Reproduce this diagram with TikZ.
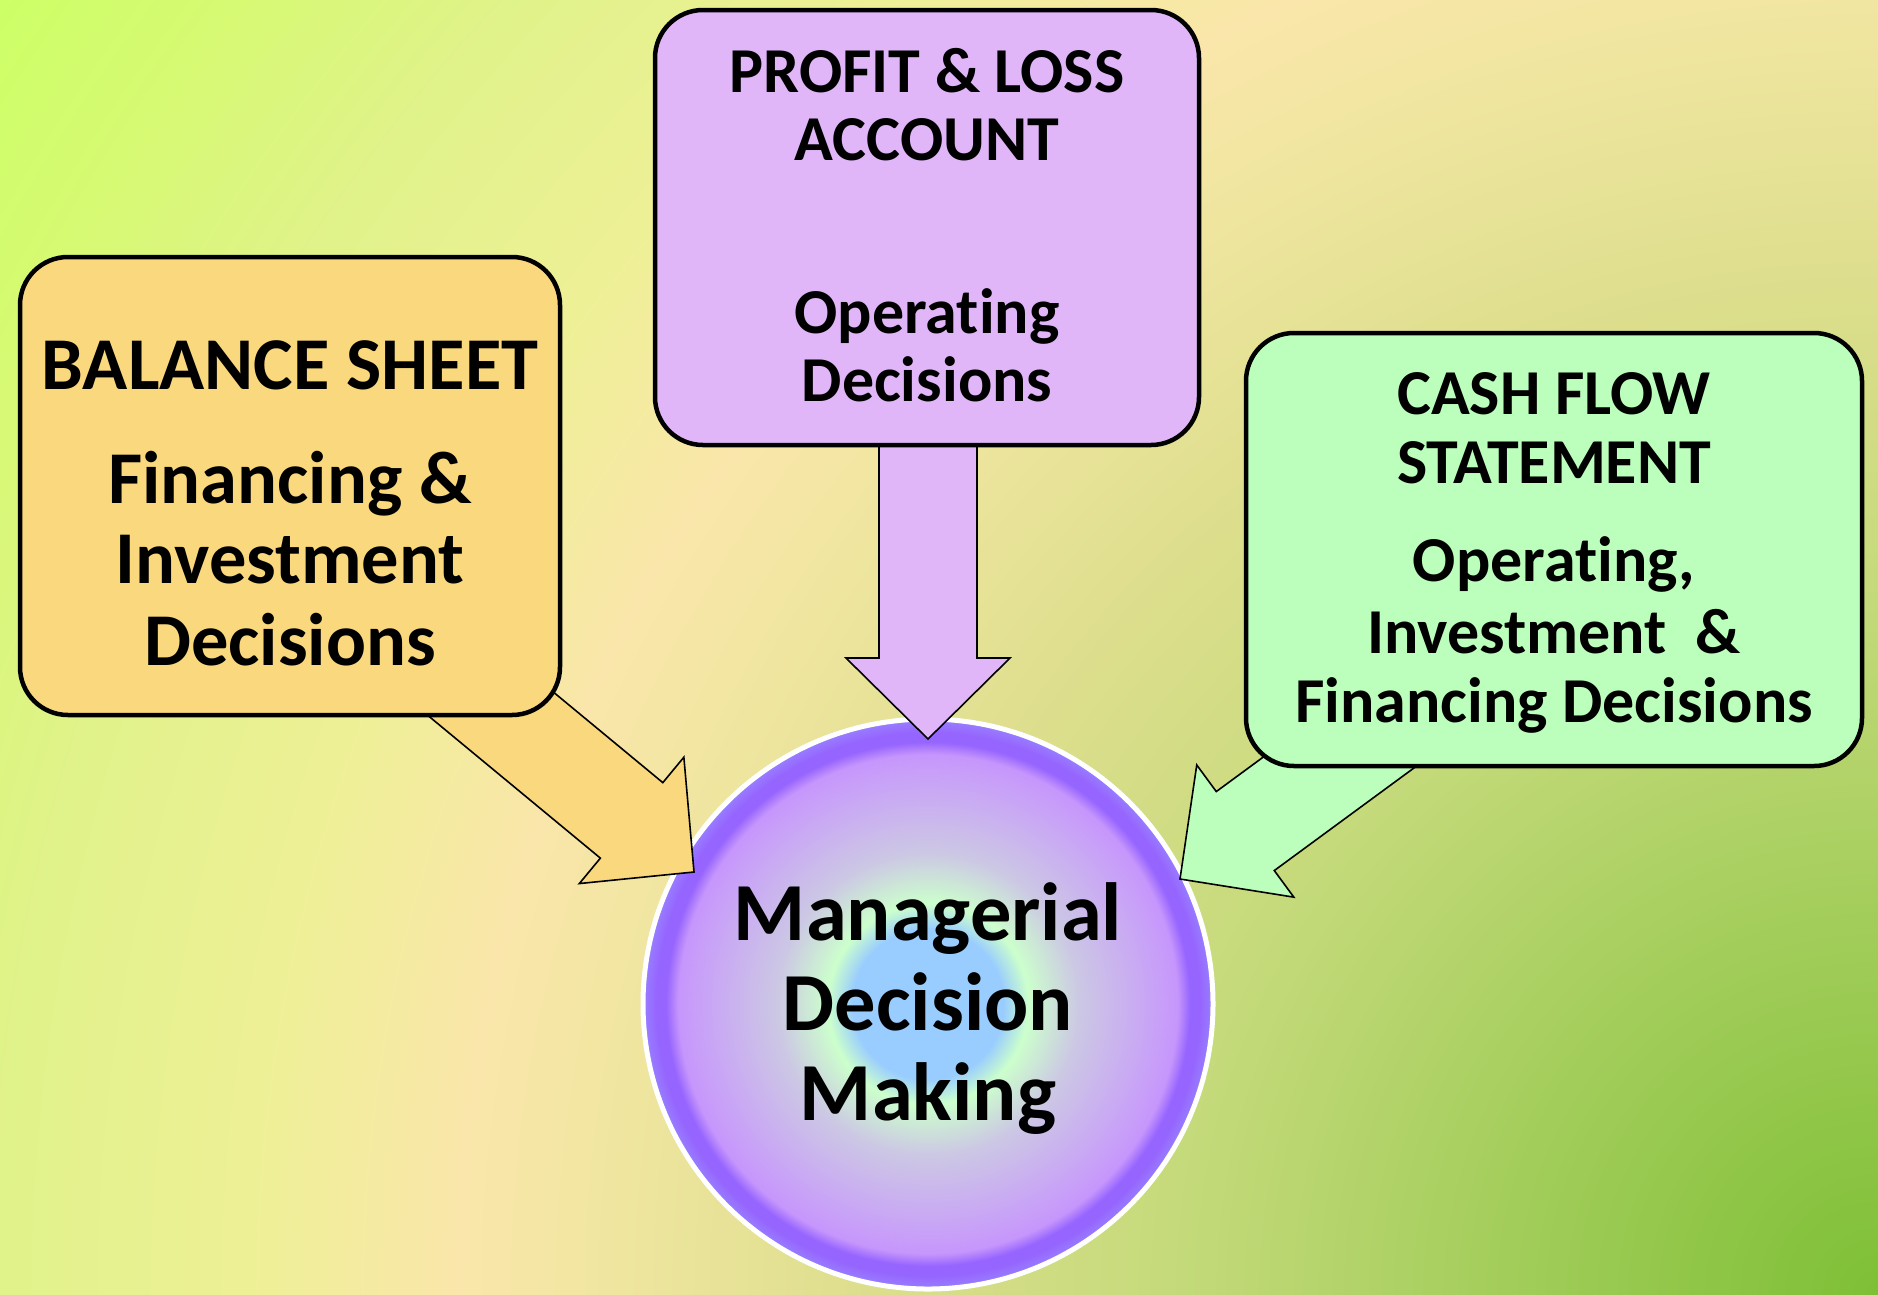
\documentclass[tikz,border=0pt]{standalone}
\usepackage{fontspec}
\setmainfont{Carlito}[Ligatures={NoCommon,NoRequired,NoContextual}]
\usetikzlibrary{calc}

\definecolor{bgA}{RGB}{126,191,54}
\definecolor{bgB}{RGB}{160,204,88}
\definecolor{bgC}{RGB}{196,218,122}
\definecolor{bgD}{RGB}{220,222,140}
\definecolor{bgE}{RGB}{242,230,162}
\definecolor{bgF}{RGB}{250,230,170}
\definecolor{bgG}{RGB}{238,240,150}
\definecolor{bgH}{RGB}{224,242,138}
\definecolor{bgI}{RGB}{214,250,114}
\definecolor{bgJ}{RGB}{204,255,102}
\pgfdeclareradialshading{bgshade}{\pgfpoint{0bp}{0bp}}{color(0bp)=(bgA); color(3.8bp)=(bgB); color(7.6bp)=(bgC); color(10.9bp)=(bgD); color(14.2bp)=(bgE); color(15.5bp)=(bgF); color(17.8bp)=(bgG); color(20.5bp)=(bgH); color(22.9bp)=(bgI); color(25bp)=(bgJ); color(50bp)=(bgJ)}

\definecolor{cA}{RGB}{153,204,255}
\definecolor{cB}{RGB}{204,255,204}
\definecolor{cC}{RGB}{204,200,228}
\definecolor{cD}{RGB}{200,160,248}
\definecolor{cE}{RGB}{198,150,252}
\definecolor{cF}{RGB}{150,100,255}
\definecolor{cG}{RGB}{152,128,255}
\pgfdeclareradialshading{circshade}{\pgfpoint{0bp}{0bp}}{color(0bp)=(cA); color(6.6bp)=(cA); color(8.8bp)=(cB); color(13.2bp)=(cC); color(20.2bp)=(cD); color(21.9bp)=(cE); color(23bp)=(cF); color(23.8bp)=(cF); color(25bp)=(cG); color(50bp)=(cG)}

\definecolor{bsfill}{RGB}{250,216,125}
\definecolor{plfill}{RGB}{224,182,248}
\definecolor{cffill}{RGB}{188,255,188}

\begin{document}
\begin{tikzpicture}[x=1pt,y=-1pt,
  box/.style={draw=black, line width=4.5pt, rounded corners=48pt, inner sep=0pt},
  blk/.style={draw=black, line width=1.6pt, line join=miter},
  tl/.style={anchor=base, inner sep=0pt, font=\fontsize{74.5}{80}\selectfont\bfseries},
  tm/.style={anchor=base, inner sep=0pt, font=\fontsize{64}{70}\selectfont\bfseries},
  tc/.style={anchor=base, inner sep=0pt, font=\fontsize{82.5}{90}\selectfont\bfseries},
]
\useasboundingbox (0,0) rectangle (1878,1294);
\begin{scope}
  \clip (0,0) rectangle (1878,1294);
  \shade[shading=bgshade] (1878,1294) circle[radius=2290];
\end{scope}

% central circle
\node[circle, minimum size=570pt, inner sep=0pt, draw=white, line width=5pt, shade, shading=circshade] (core) at (928,1004) {};

% arrow tips
\coordinate (tipP) at (928,739);
\coordinate (tipB) at (694,872);
\coordinate (tipC) at (1180,879);

\begin{scope}[shift={(tipP)}, rotate=-90]
  \draw[blk, fill=plfill] (0,0) -- (-81,82) -- (-81,49) -- (-340,49) -- (-340,-49) -- (-81,-49) -- (-81,-82) -- cycle;
\end{scope}
\begin{scope}[shift={(tipB)}, rotate=-39.6]
  \draw[blk, fill=bsfill] (0,0) -- (-81,82) -- (-81,49) -- (-340,49) -- (-340,-49) -- (-81,-49) -- (-81,-82) -- cycle;
\end{scope}
\begin{scope}[shift={(tipC)}, rotate=-143.7]
  \draw[blk, fill=cffill] (0,0) -- (-81,82) -- (-81,49) -- (-340,49) -- (-340,-49) -- (-81,-49) -- (-81,-82) -- cycle;
\end{scope}

% boxes
\node[box, fill=bsfill, minimum width=540pt, minimum height=458pt] (bs) at (290,486) {};
\node[box, fill=plfill, minimum width=544pt, minimum height=435pt] (pl) at (927,227.5) {};
\node[box, fill=cffill, minimum width=616pt, minimum height=433pt] (cf) at (1554,549.5) {};

% texts
\node[tl] (bs1) at (290,389) {BALANCE SHEET};
\node[tl] (bs2) at (290,503) {Financing \&};
\node[tl] (bs3) at (290,583) {Investment};
\node[tl] (bs4) at (290,665) {Decisions};

\node[tm] (pl1) at (927,92) {PROFIT \& LOSS};
\node[tm] (pl2) at (927,160) {ACCOUNT};
\node[tm] (pl3) at (927,333) {Operating};
\node[tm] (pl4) at (927,401) {Decisions};

\node[tm] (cf1) at (1554,414) {CASH FLOW};
\node[tm] (cf2) at (1554,483) {STATEMENT};
\node[tm] (cf3) at (1554,581) {Operating,};
\node[tm] (cf4) at (1554,653) {Investment\ \ \&};
\node[tm] (cf5) at (1554,722) {Financing Decisions};

\node[tc] (c1) at (928,940) {Managerial};
\node[tc] (c2) at (928,1030) {Decision};
\node[tc] (c3) at (928,1120) {Making};
\end{tikzpicture}
\end{document}
